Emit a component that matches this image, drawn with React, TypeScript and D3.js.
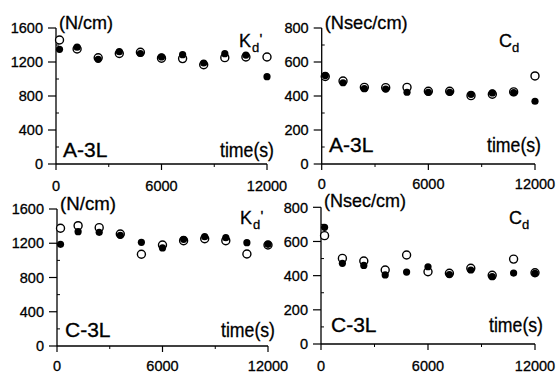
import React from "react";
import * as d3 from "d3";

const times = [200, 1200, 2400, 3600, 4800, 6000, 7200, 8400, 9600, 10800, 12000];
const a3lKOpen = [1459, 1353, 1250, 1300, 1315, 1245, 1240, 1168, 1251, 1259, 1259];
const a3lKFilled = [1349, 1375, 1231, 1322, 1300, 1260, 1286, 1188, 1298, 1282, 1027];
const a3lCOpen = [515, 488, 451, 449, 451, 428, 428, 402, 410, 424, 518];
const a3lCFilled = [520, 478, 443, 441, 422, 422, 422, 410, 418, 420, 369];
const c3lKOpen = [1375, 1405, 1382, 1308, 1071, 1180, 1230, 1253, 1230, 1075, 1180];
const c3lKFilled = [1188, 1335, 1328, 1293, 1211, 1145, 1246, 1277, 1265, 1207, 1188];
const c3lCOpen = [634, 501, 486, 433, 521, 423, 414, 443, 402, 497, 417];
const c3lCFilled = [683, 472, 460, 404, 421, 452, 406, 433, 394, 415, 414];

const xTicks = [0, 6000, 12000];
const xMinor = [3000, 9000];
const kTicks = [0, 400, 800, 1200, 1600];
const cTicks = [0, 200, 400, 600, 800];

const FONT = "'Liberation Sans', Arial, sans-serif";

type PanelProps = {
  x0: number; x1: number; yTop: number; yBot: number;
  yMax: number; yTicks: number[]; yMinorStep: number;
  unit: string; unitW: number; sample: string; sym: string; prime: boolean;
  open: number[]; filled: number[];
  symX: number; symY: number; sampleX: number; sampleY: number;
  timeRight: number; timeY: number; unitY: number; tickLabelY: number;
};

function Panel(p: PanelProps) {
  const x = d3.scaleLinear().domain([0, 12000]).range([p.x0, p.x1]);
  const y = d3.scaleLinear().domain([0, p.yMax]).range([p.yBot, p.yTop]);
  const minors = d3.range(p.yMinorStep, p.yMax, p.yMinorStep).filter((v) => !p.yTicks.includes(v));
  const ts = { stroke: "#000", strokeWidth: 0.3 };
  return (
    <g fontFamily={FONT} fill="#000">
      <line x1={p.x0} x2={p.x0} y1={p.yTop} y2={p.yBot} stroke="#000" strokeWidth={1.3} />
      <line x1={p.x0} x2={p.x1} y1={p.yBot} y2={p.yBot} stroke="#000" strokeWidth={1.3} />
      {p.yTicks.map((t) => (
        <g key={"y" + t}>
          <line x1={p.x0 - 8} x2={p.x0} y1={y(t)} y2={y(t)} stroke="#000" strokeWidth={1.2} />
          <text x={p.x0 - 13} y={y(t)} dy="0.36em" textAnchor="end" fontSize={14.5} {...ts}>{t}</text>
        </g>
      ))}
      {minors.map((t) => (
        <line key={"ym" + t} x1={p.x0} x2={p.x0 + 3} y1={y(t)} y2={y(t)} stroke="#000" strokeWidth={1} />
      ))}
      {xTicks.map((t) => (
        <g key={"x" + t}>
          <line x1={x(t)} x2={x(t)} y1={p.yBot} y2={p.yBot + 6} stroke="#000" strokeWidth={1.2} />
          <text x={x(t)} y={p.tickLabelY} textAnchor="middle" fontSize={14.5} {...ts}>{t}</text>
        </g>
      ))}
      {xMinor.map((t) => (
        <line key={"xm" + t} x1={x(t)} x2={x(t)} y1={p.yBot} y2={p.yBot + 3} stroke="#000" strokeWidth={1} />
      ))}
      <text x={p.x0 + 3} y={p.unitY} fontSize={19} textLength={p.unitW} lengthAdjust="spacingAndGlyphs" {...ts}>{p.unit}</text>
      <text x={p.sampleX} y={p.sampleY} fontSize={21} {...ts}>{p.sample}</text>
      <text x={p.timeRight - 54} y={p.timeY} fontSize={19.5} textLength={54} lengthAdjust="spacingAndGlyphs" {...ts}>time(s)</text>
      <text x={p.symX} y={p.symY} fontSize={18} {...ts}>{p.sym}</text>
      <text x={p.symX + 13} y={p.symY + 4.5} fontSize={13} {...ts}>d</text>
      {p.prime && <text x={p.symX + 20.5} y={p.symY - 3} fontSize={15} {...ts}>'</text>}
      {times.map((t, i) => (
        <circle key={"o" + i} cx={x(t)} cy={y(p.open[i])} r={4} fill="#fff" stroke="#000" strokeWidth={1.4} />
      ))}
      {times.map((t, i) => (
        <circle key={"f" + i} cx={x(t)} cy={y(p.filled[i])} r={3.6} fill="#000" />
      ))}
    </g>
  );
}

export default function App() {
  return (
    <svg width={556} height={374} style={{ position: "absolute", left: 0, top: 0, background: "#fff" }}>
      <rect width={556} height={374} fill="#fff" />
      <Panel x0={56} x1={267} yTop={28} yBot={164} yMax={1600} yTicks={kTicks} yMinorStep={200}
        unit="(N/cm)" unitW={54} sample="A-3L" sym="K" prime={true} open={a3lKOpen} filled={a3lKFilled}
        symX={239} symY={47} sampleX={63} sampleY={157} timeRight={274} timeY={157} unitY={29} tickLabelY={191} />
      <Panel x0={321.7} x1={535} yTop={28} yBot={164} yMax={800} yTicks={cTicks} yMinorStep={100}
        unit="(Nsec/cm)" unitW={83} sample="A-3L" sym="C" prime={false} open={a3lCOpen} filled={a3lCFilled}
        symX={499} symY={47} sampleX={329} sampleY={152} timeRight={541} timeY={152} unitY={29} tickLabelY={189} />
      <Panel x0={57} x1={268} yTop={209} yBot={346} yMax={1600} yTicks={kTicks} yMinorStep={200}
        unit="(N/cm)" unitW={56} sample="C-3L" sym="K" prime={true} open={c3lKOpen} filled={c3lKFilled}
        symX={240} symY={224} sampleX={65} sampleY={337} timeRight={275} timeY={337} unitY={210} tickLabelY={371} />
      <Panel x0={321} x1={535} yTop={207.3} yBot={344} yMax={800} yTicks={cTicks} yMinorStep={100}
        unit="(Nsec/cm)" unitW={82} sample="C-3L" sym="C" prime={false} open={c3lCOpen} filled={c3lCFilled}
        symX={509} symY={224} sampleX={331} sampleY={332} timeRight={543} timeY={332} unitY={207} tickLabelY={371} />
    </svg>
  );
}
